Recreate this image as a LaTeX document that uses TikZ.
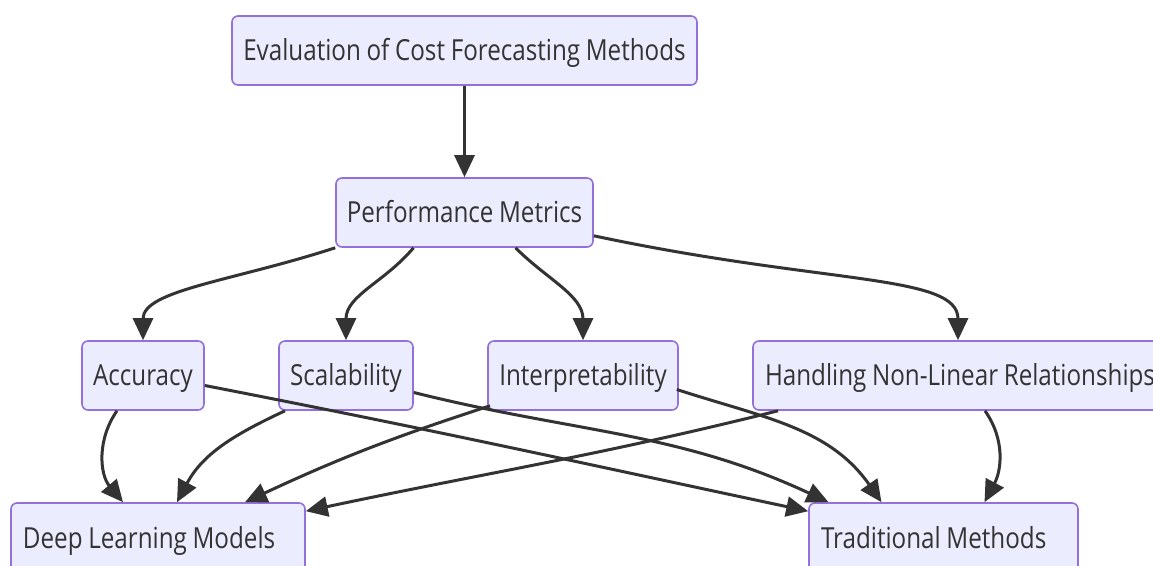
\documentclass[tikz,border=0pt]{standalone}
\usepackage{fontspec}
\setmainfont{Open Sans}[FakeStretch=0.835, WordSpace=0.9]
\usetikzlibrary{arrows.meta}

\definecolor{boxfill}{HTML}{ECECFF}
\definecolor{boxline}{HTML}{9370DB}
\definecolor{ink}{HTML}{333333}

\tikzset{
  metric/.style={draw=boxline, fill=boxfill, line width=1.6pt, rounded corners=6pt,
    minimum height=69pt, text height=21pt, text depth=0pt, text=ink,
    font=\fontsize{29}{34}\selectfont},
  % left-set labels keep the font's own word spacing
  flushbox/.style={metric, align=left, execute at begin node={\spaceskip=0pt\xspaceskip=0pt}},
  link/.style={draw=ink, line width=3pt, -{Triangle[length=22pt,width=20pt]}}
}

\begin{document}
\begin{tikzpicture}[x=1pt, y=1pt]
      \useasboundingbox (0,0) rectangle (1153,565);

      \node[metric, minimum width=465pt] (eval) at (464.5, 514.5) {Evaluation of Cost Forecasting Methods};
      \node[metric, minimum width=257pt] (perf) at (464.5, 352.5) {Performance Metrics};

      \node[metric, minimum width=122pt] (acc)    at (143, 189.5) {Accuracy};
      \node[metric, minimum width=134pt] (scal)   at (346, 189.5) {Scalability};
      \node[metric, minimum width=190pt] (interp) at (583, 189.5) {Interpretability};
      \node[flushbox, minimum width=412pt, text width=388pt] (handl) at (959, 189.5) {\mbox{Handling Non-Linear Relationships}};

      \node[flushbox, minimum width=294pt, text width=270pt] (deep) at (158, 27.5) {\mbox{Deep Learning Models}};
      \node[flushbox, minimum width=269pt, text width=245pt] (trad) at (943.5, 27.5) {\mbox{Traditional Methods}};

      \path[every edge/.style={link}]
      (eval) edge (perf)
      (perf.south west) edge[out=198, in=90, out looseness=1.3, in looseness=0.6] (acc.north)
      ([xshift=-51pt]perf.south) edge[out=230, in=90] (scal.north)
      ([xshift=51pt]perf.south) edge[out=-45, in=90] (interp.north)
      ([yshift=12pt]perf.south east) edge[out=-12, in=90, out looseness=1.6, in looseness=0.45] ([xshift=-1pt]handl.north)
      ([xshift=-26pt]acc.south) edge[out=235, in=130] ([xshift=-35pt]deep.north)
      ([yshift=-10pt]acc.east) edge[out=-11, in=168] ([yshift=-9pt]trad.north west)
      ([xshift=-61pt]scal.south) edge[out=205, in=62] ([xshift=19pt]deep.north)
      ([yshift=-17pt]scal.east) edge[out=-14, in=155] ([xshift=-115pt]trad.north)
      ([xshift=-93pt,yshift=5pt]interp.south) edge[out=198, in=25] ([xshift=87pt]deep.north)
      ([xshift=-2pt,yshift=-14pt]interp.east) edge[out=-18, in=125] ([xshift=-62pt]trad.north)
      ([xshift=-181pt]handl.south) edge[out=194, in=12] ([yshift=-9pt]deep.north east)
      ([xshift=26pt]handl.south) edge[out=-55, in=62] ([xshift=41pt]trad.north);
    \end{tikzpicture}
\end{document}
